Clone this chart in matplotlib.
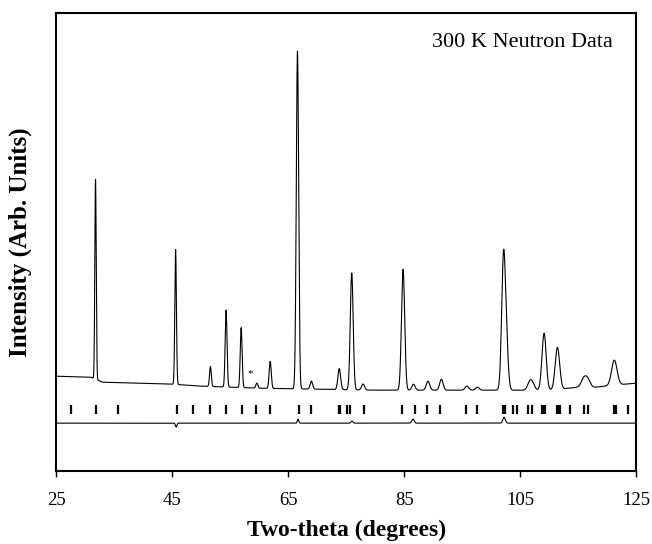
import numpy as np
import matplotlib
matplotlib.use('Agg')
import matplotlib.pyplot as plt

plt.rcParams['font.family'] = ['Liberation Serif', 'DejaVu Serif']

# background of the observed pattern (two-theta, intensity)
bg_x = [25, 31, 33, 45, 50, 60, 70, 80, 100, 110, 115, 118, 121, 125]
bg_y = [95, 94, 89, 87, 85, 83, 82, 81, 81, 81, 84, 84, 86, 88]

# observed peaks: position, height above background, fwhm
peak_pos = [31.8, 45.6, 51.6, 54.3, 56.9, 59.6, 61.9, 66.6, 69.0, 73.8,
            75.95, 77.9, 84.8, 86.6, 89.1, 91.4, 95.8, 97.6, 102.1, 102.6,
            106.6, 107.1, 109.1, 111.4, 115.9, 116.6, 121.2]
peak_h = [200, 135, 20, 77, 60, 5, 27, 338, 8, 21,
          117, 6, 121, 6, 9, 11, 4, 3, 128, 40,
          7, 6, 57, 42, 8, 8, 25]
peak_w = [0.28, 0.32, 0.36, 0.38, 0.38, 0.4, 0.42, 0.48, 0.5, 0.55,
          0.58, 0.6, 0.65, 0.65, 0.7, 0.7, 0.75, 0.75, 0.75, 0.75,
          0.9, 0.9, 0.85, 0.9, 1.0, 1.0, 1.1]

# calculated reflection positions
refl_pos = [27.6, 31.9, 35.7, 45.8, 48.6, 51.55, 54.3, 57.0, 59.5, 61.9,
            66.8, 69.0, 73.7, 74.0, 75.1, 75.7, 78.0, 84.6, 86.9, 89.0,
            91.2, 95.7, 97.5, 102.0, 102.4, 103.8, 104.4, 106.4, 107.0,
            108.8, 109.1, 109.3, 111.3, 111.6, 111.9, 113.6, 115.9, 116.6,
            121.2, 121.5, 123.6]

# difference curve features: position, amplitude, width
diff_base = 48
diff_pos = [45.7, 66.7, 76.0, 86.5, 102.2]
diff_amp = [-4, 4, 2, 4, 6]
diff_w = [0.3, 0.3, 0.4, 0.5, 0.5]

tt = np.linspace(25, 125, 5001)
obs = np.interp(tt, bg_x, bg_y)
for p, h, w in zip(peak_pos, peak_h, peak_w):
    s = w / 2.355
    obs = obs + h * np.exp(-0.5 * ((tt - p) / s) ** 2)

diff = np.full_like(tt, diff_base, dtype=float)
for p, a, w in zip(diff_pos, diff_amp, diff_w):
    s = w / 2.355
    diff = diff + a * np.exp(-0.5 * ((tt - p) / s) ** 2)

fig = plt.figure(figsize=(6.52, 5.44), dpi=100)
ax = fig.add_axes([0.086, 0.134, 0.890, 0.843])

ax.plot(tt, obs, color='black', lw=0.8)
ax.plot(tt, diff, color='black', lw=0.8)
ax.vlines(refl_pos, 57, 66, color='black', lw=1.6)
ax.text(58.4, 98, '*', ha='center', va='center', fontsize=8)

ax.set_xlim(25, 125)
ax.set_ylim(0, 459)
ax.set_xticks([25, 45, 65, 85, 105, 125])
ax.set_yticks([])
ax.tick_params(axis='x', direction='out', length=4, width=1, labelsize=13.5, pad=11)
for sp in ax.spines.values():
    sp.set_linewidth(1.5)

ax.set_xlabel('Two-theta (degrees)', fontsize=17, fontweight='bold', labelpad=8)
ax.set_ylabel('Intensity (Arb. Units)', fontsize=18, fontweight='bold', labelpad=17)
ax.text(0.96, 0.935, '300 K Neutron Data', transform=ax.transAxes,
        ha='right', va='center', fontsize=16)

fig.savefig('out.png', dpi=100)
